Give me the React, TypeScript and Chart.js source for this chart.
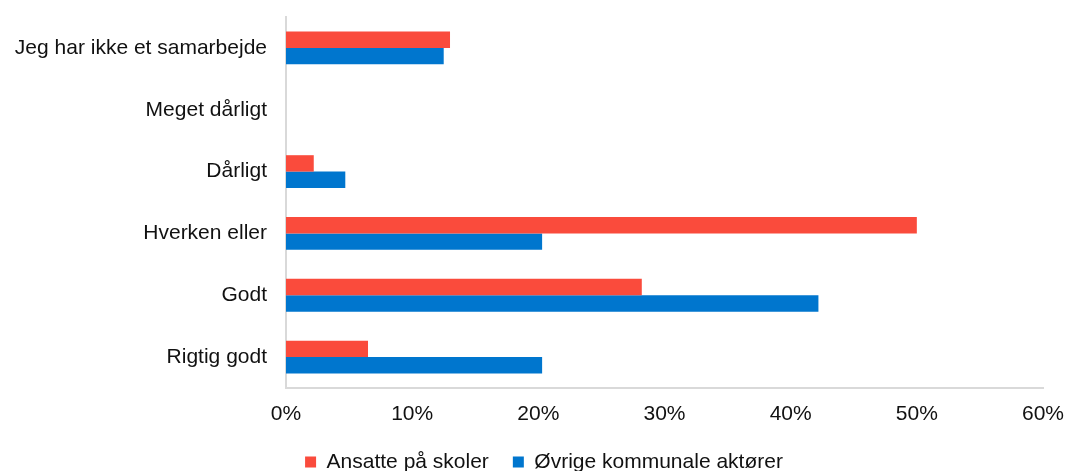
import React, { useEffect, useRef } from "react";
import { Chart, registerables } from "chart.js";

Chart.register(...registerables);

const categories = [
  "Jeg har ikke et samarbejde",
  "Meget dårligt",
  "Dårligt",
  "Hverken eller",
  "Godt",
  "Rigtig godt",
];
const seriesNames = ["Ansatte på skoler", "Øvrige kommunale aktører"];
const ansatte = [13.0, 0, 2.2, 50.0, 28.2, 6.5];
const ovrige = [12.5, 0, 4.7, 20.3, 42.2, 20.3];
const xMin = 0;
const xMax = 60;
const xStep = 10;

const FONT = "'Liberation Sans', Arial, Helvetica, sans-serif";

export default function App() {
  const ref = useRef<HTMLCanvasElement | null>(null);

  useEffect(() => {
    document.body.style.margin = "0";
    const canvas = ref.current;
    if (!canvas) return;
    const chart = new Chart(canvas, {
      type: "bar",
      data: {
        labels: categories,
        datasets: [
          {
            label: seriesNames[0],
            data: ansatte,
            backgroundColor: "#FA4B3C",
            borderWidth: 0,
            categoryPercentage: 0.53,
            barPercentage: 1,
          },
          {
            label: seriesNames[1],
            data: ovrige,
            backgroundColor: "#0076CE",
            borderWidth: 0,
            categoryPercentage: 0.53,
            barPercentage: 1,
          },
        ],
      },
      options: {
        indexAxis: "y",
        responsive: false,
        animation: false,
        layout: { padding: { left: 0, right: -23, top: 17, bottom: -11.5 } },
        plugins: {
          tooltip: { enabled: false },
          legend: {
            display: true,
            position: "bottom",
            labels: {
              boxWidth: 11,
              boxHeight: 11,
              padding: 24,
              color: "#111",
              font: { family: FONT, size: 21 },
            },
          },
        },
        scales: {
          x: {
            min: xMin,
            max: xMax,
            z: 1,
            grid: { display: false, drawTicks: false },
            border: { display: true, color: "#d9d9d9", width: 2 },
            ticks: {
              stepSize: xStep,
              padding: 14,
              color: "#111",
              font: { family: FONT, size: 21 },
              callback: (v: any) => `${v}%`,
            },
            afterFit: (s: any) => {
              s.height = 39.5;
              s.paddingLeft = 0;
              s.paddingRight = 22;
            },
          },
          y: {
            z: 1,
            grid: { display: false, drawTicks: false },
            border: { display: true, color: "#d9d9d9", width: 2 },
            ticks: {
              padding: 19,
              color: "#111",
              font: { family: FONT, size: 21 },
            },
            afterFit: (s: any) => {
              s.width = 286;
              s.paddingTop = 0;
              s.paddingBottom = 0;
            },
          },
        },
      },
    });
    return () => chart.destroy();
  }, []);

  return (
    <canvas
      ref={ref}
      width={1065}
      height={471}
      style={{ display: "block", width: "1065px", height: "471px" }}
    />
  );
}
